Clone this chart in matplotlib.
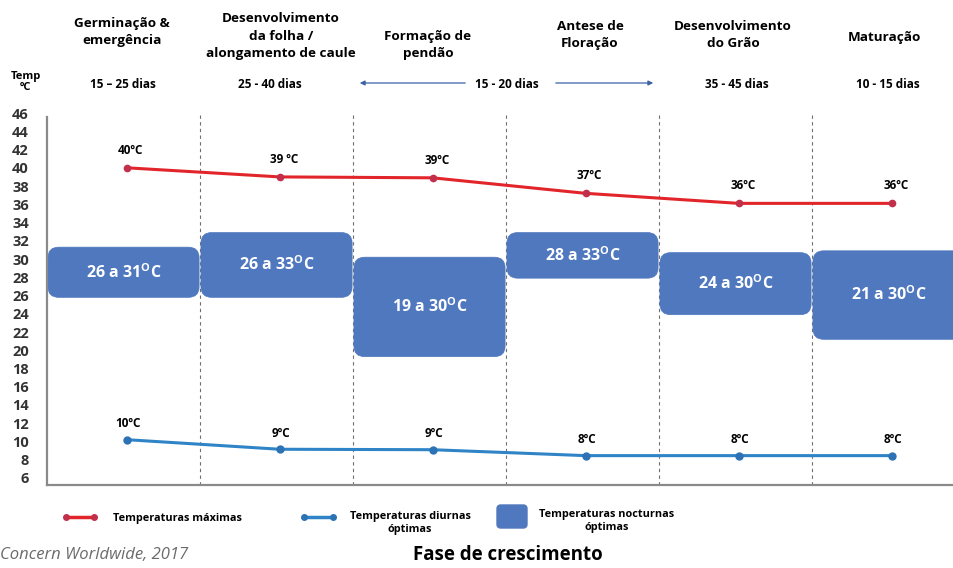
import matplotlib
matplotlib.use("Agg")
import matplotlib.pyplot as plt
from matplotlib.patches import FancyBboxPatch
from matplotlib.lines import Line2D
import numpy as np

plt.rcParams['font.family'] = ['Open Sans', 'DejaVu Sans']
plt.rcParams['mathtext.fontset'] = 'custom'
plt.rcParams['mathtext.rm'] = 'Open Sans:bold'
plt.rcParams['mathtext.bf'] = 'Open Sans:bold'

## data
phases = ['Germinação &\nemergência', 'Desenvolvimento\nda folha /\nalongamento de caule',
          'Formação de\npendão', 'Antese de\nFloração', 'Desenvolvimento\ndo Grão', 'Maturação']
days = ['15 – 25 dias', '25 - 40 dias', '', '', '35 - 45 dias', '10 - 15 dias']
shared_days = '15 - 20 dias'
t_max = [40.0, 39.0, 38.9, 37.2, 36.1, 36.1]
t_max_lbl = ['40ºC', '39 ºC', '39ºC', '37ºC', '36ºC', '36ºC']
t_day = [10.2, 9.15, 9.1, 8.45, 8.45, 8.45]
t_day_lbl = ['10ºC', '9ºC', '9ºC', '8ºC', '8ºC', '8ºC']
night_low = [25.8, 25.8, 19.3, 27.9, 23.9, 21.2]
night_high = [31.3, 32.9, 30.2, 32.9, 30.7, 30.9]
night_lbl = ['26 a 31', '26 a 33', '19 a 30', '28 a 33', '24 a 30', '21 a 30']
yticks = list(range(6, 47, 2))

W, H = 954, 568
RED = '#E2252B'
RED_M = '#C22F4A'
BLUE = '#2E84C6'
BLUE_M = '#2C72B5'
BOX = '#4F78BF'


def fx(px):
    return px / W


def fy(py):
    return 1 - py / H


fig = plt.figure(figsize=(W / 100, H / 100), dpi=100)
ax = fig.add_axes([0.0493, 0.1461, 0.9507, 0.6581])

n = len(phases)
xpos = np.arange(n) + 0.52

# night boxes
for i in range(n):
    lo, hi = night_low[i], night_high[i]
    b = FancyBboxPatch((i + 0.006, lo), 0.988, hi - lo,
                       boxstyle='round,pad=0,rounding_size=0.07',
                       mutation_aspect=16.5, fc=BOX, ec=BOX, lw=0.5, zorder=2)
    ax.add_patch(b)
    ax.text(i + 0.5, (lo + hi) / 2, night_lbl[i] + r'$^{\rm O}$C', color='white',
            fontsize=11.5, fontweight='bold', ha='center', va='center', zorder=3)

# lines
ax.plot(xpos, t_max, color=RED, lw=2.2, marker='o', ms=4.5, mfc=RED_M, mec=RED_M, zorder=4)
ax.plot(xpos, t_day, color=BLUE, lw=2.2, marker='o', ms=5, mfc=BLUE_M, mec=BLUE_M, zorder=4)
for x, v, s in zip(xpos, t_max, t_max_lbl):
    ax.annotate(s, (x, v), xytext=(3, 8), textcoords='offset points', ha='center',
                va='bottom', fontsize=8.5, fontweight='bold', zorder=5)
for x, v, s in zip(xpos, t_day, t_day_lbl):
    ax.annotate(s, (x, v), xytext=(1, 7), textcoords='offset points', ha='center',
                va='bottom', fontsize=8.5, fontweight='bold', zorder=5)

# dashed separators
for i in range(1, n):
    ax.axvline(i, ymin=0, ymax=0.99, color='#6f6f6f', lw=0.8, ls=(0, (3, 3)),
               clip_on=False, zorder=1)

ax.set_xlim(0, 5.928)
ax.set_ylim(5.23, 46.2)
ax.set_yticks(yticks)
ax.set_yticklabels([str(t) for t in yticks], fontsize=10.5, fontweight='bold', color='#333333')
ax.tick_params(axis='y', length=0, pad=13)
ax.set_xticks([])
for s in ['top', 'right']:
    ax.spines[s].set_visible(False)
for s in ['left', 'bottom']:
    ax.spines[s].set_color('#8a8a8a')
    ax.spines[s].set_linewidth(1.6)
ax.spines['left'].set_bounds(5.23, 45.6)

# headers
head_x = [122, 281, 428, 590, 733, 884]
head_y = [32, 36, 45, 35, 35, 37]
for s, x, y in zip(phases, head_x, head_y):
    fig.text(fx(x), fy(y), s, ha='center', va='center', fontsize=9.7,
             fontweight='bold', linespacing=1.45)
days_x = [123, 270, 0, 0, 737, 888]
for s, x in zip(days, days_x):
    if s:
        fig.text(fx(x), fy(84), s, ha='center', va='center', fontsize=8.5, fontweight='bold')
fig.text(fx(507), fy(84), shared_days, ha='center', va='center', fontsize=8.5, fontweight='bold')
ax.annotate('', xy=(fx(357), fy(83)), xytext=(fx(468), fy(83)), xycoords='figure fraction',
            arrowprops=dict(arrowstyle='-|>', color='#3A62A8', lw=0.9, mutation_scale=7))
ax.annotate('', xy=(fx(656), fy(83)), xytext=(fx(553), fy(83)), xycoords='figure fraction',
            arrowprops=dict(arrowstyle='-|>', color='#3A62A8', lw=0.9, mutation_scale=7))
fig.text(fx(26), fy(82), 'Temp\nºC', ha='center', va='center', fontsize=8,
         fontweight='bold', linespacing=1.1)

# legend
fig.add_artist(Line2D([fx(66), fx(94)], [fy(517), fy(517)], color=RED, lw=2.5,
                      marker='o', ms=4, mfc=RED_M, mec=RED_M))
fig.text(fx(113), fy(519), 'Temperaturas máximas', ha='left', va='center',
         fontsize=7.8, fontweight='bold')
fig.add_artist(Line2D([fx(304), fx(333)], [fy(517), fy(517)], color=BLUE, lw=2.5,
                      marker='o', ms=4, mfc=BLUE_M, mec=BLUE_M))
fig.text(fx(410), fy(523), 'Temperaturas diurnas\nóptimas', ha='center', va='center',
         fontsize=7.8, fontweight='bold', linespacing=1.15)
fig.add_artist(FancyBboxPatch((fx(497), fy(528)), fx(30), 23 / H,
                              boxstyle='round,pad=0,rounding_size=0.004',
                              transform=fig.transFigure, fc=BOX, ec=BOX, mutation_aspect=1.7))
fig.text(fx(607), fy(521), 'Temperaturas nocturnas\nóptimas', ha='center', va='center',
         fontsize=7.8, fontweight='bold', linespacing=1.15)

fig.text(fx(0), fy(555), 'Concern Worldwide, 2017', ha='left', va='center', fontsize=12,
         style='italic', color='#6b6b6b')
fig.text(fx(508), fy(555), 'Fase de crescimento', ha='center', va='center', fontsize=13.5,
         fontweight='bold')

fig.savefig('out.png', dpi=100)
